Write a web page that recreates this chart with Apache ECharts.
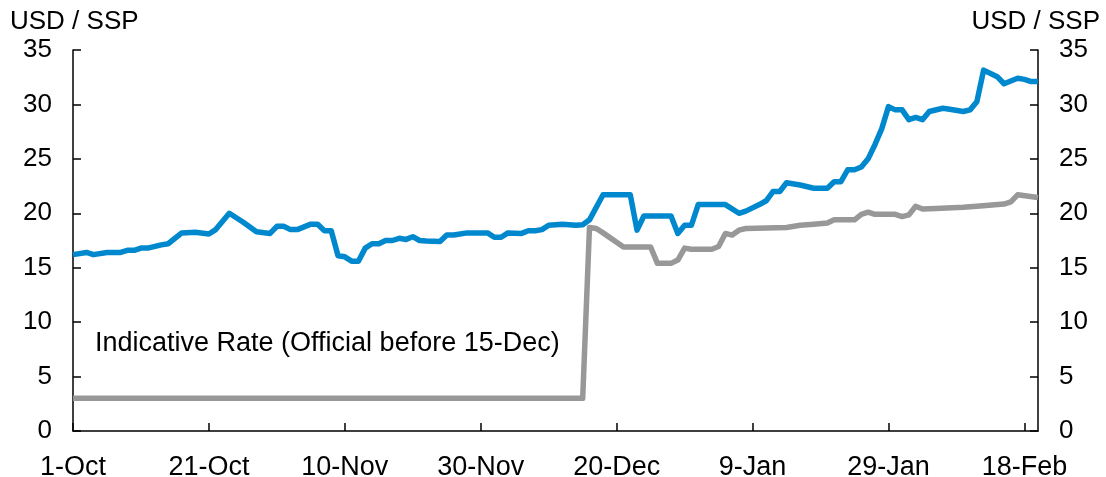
<!DOCTYPE html>
<html>
<head>
<meta charset="utf-8">
<script src="https://cdn.jsdelivr.net/npm/echarts@6/dist/echarts.min.js"></script>
<style>
html,body{margin:0;padding:0;background:#fff;}
#chart{width:1106px;height:477px;}
</style>
</head>
<body>
<div id="chart"></div>
<script>
// Day index 0 = 1-Oct
var tickDays = [0, 20, 40, 60, 80, 100, 120, 140];
var tickLabels = ['1-Oct', '21-Oct', '10-Nov', '30-Nov', '20-Dec', '9-Jan', '29-Jan', '18-Feb'];
var yTicks = [0, 5, 10, 15, 20, 25, 30, 35];

var parallelDays = [0,2,3,5,7,8,9,10,11,13,14,16,18,20,21,23,25,27,29,30,31,32,33,35,36,37,38,39,40,41,42,43,44,45,46,47,48,49,50,51,52,54,55,56,58,61,62,63,64,66,67,68,69,70,72,74,75,76,78,82,83,84,88,89,90,91,92,96,98,99,101,102,103,104,105,107,109,111,112,113,114,115,116,117,118,119,120,121,122,123,124,125,126,128,129,131,132,133,134,136,137,139,140,141,142];
var parallelRate = [16.2,16.4,16.2,16.4,16.4,16.6,16.6,16.8,16.8,17.1,17.2,18.2,18.25,18.1,18.5,20.0,19.2,18.3,18.15,18.8,18.8,18.5,18.5,19.0,19.0,18.4,18.4,16.1,16.0,15.6,15.6,16.8,17.2,17.2,17.5,17.5,17.7,17.6,17.85,17.5,17.45,17.4,18.0,18.0,18.2,18.2,17.8,17.8,18.2,18.15,18.4,18.4,18.5,18.9,19.0,18.9,18.95,19.4,21.7,21.7,18.45,19.75,19.75,18.15,18.9,18.9,20.8,20.8,20.0,20.2,20.8,21.15,22.0,22.0,22.8,22.6,22.3,22.3,22.9,22.9,24.0,24.0,24.25,25.0,26.3,27.75,29.8,29.5,29.5,28.6,28.8,28.6,29.35,29.65,29.55,29.35,29.5,30.25,33.15,32.55,31.9,32.4,32.3,32.1,32.1];

var indicativeDays = [0,75,76,77,78,81,85,86,88,89,90,91,94,95,96,97,98,99,105,107,109,111,112,115,116,117,118,121,122,123,124,125,127,131,133,137,138,139,142];
var indicativeRate = [3.0,3.0,18.7,18.6,18.2,16.9,16.9,15.4,15.4,15.7,16.8,16.7,16.7,16.95,18.15,18.0,18.45,18.6,18.7,18.9,19.0,19.1,19.4,19.4,19.9,20.1,19.9,19.9,19.7,19.85,20.65,20.4,20.45,20.55,20.65,20.85,21.05,21.7,21.45];

function pairs(xs, ys) { return xs.map(function (x, i) { return [x, ys[i]]; }); }

var FONT = '"Liberation Sans", Arial, sans-serif';
var chart = echarts.init(document.getElementById('chart'), null, {renderer: 'canvas'});

var yAxisCommon = {
  type: 'value', min: 0, max: 35, interval: 5,
  splitLine: {show: false},
  axisLine: {show: true, lineStyle: {color: '#000', width: 1.5}},
  axisTick: {show: true, inside: true, length: 8, lineStyle: {color: '#000', width: 1.5}},
  axisLabel: {color: '#000', fontSize: 26, fontFamily: FONT, margin: 21}
};

chart.setOption({
  animation: false,
  backgroundColor: '#fff',
  grid: {left: 73, right: 68, top: 50, bottom: 46, containLabel: false, outerBoundsMode: 'none'},
  xAxis: {
    type: 'value', min: 0, max: 142, interval: 20,
    splitLine: {show: false},
    axisLine: {show: true, onZero: false, lineStyle: {color: '#000', width: 1.5}},
    axisTick: {show: true, inside: true, length: 8, lineStyle: {color: '#000', width: 1.5}},
    axisLabel: {
      color: '#000', fontSize: 27, fontFamily: FONT, margin: 23,
      showMaxLabel: false,
      formatter: function (v) { var i = tickDays.indexOf(v); return i >= 0 ? tickLabels[i] : ''; }
    }
  },
  yAxis: [
    Object.assign({}, yAxisCommon, {position: 'left'}),
    Object.assign({}, yAxisCommon, {position: 'right'})
  ],
  graphic: [
    {type: 'text', left: 10, top: 9, style: {text: 'USD / SSP', fill: '#000', font: '26px ' + FONT}},
    {type: 'text', right: 6, top: 9, style: {text: 'USD / SSP', fill: '#000', font: '26px ' + FONT}},
    {type: 'text', left: 95, top: 330, style: {text: 'Indicative Rate (Official before 15-Dec)', fill: '#000', font: '27px ' + FONT}}
  ],
  series: [
    {
      name: 'Indicative Rate', type: 'line', yAxisIndex: 0,
      data: pairs(indicativeDays, indicativeRate),
      showSymbol: false, symbol: 'none',
      lineStyle: {color: '#989898', width: 5.5, join: 'round'},
      z: 2
    },
    {
      name: 'Parallel Rate', type: 'line', yAxisIndex: 0,
      data: pairs(parallelDays, parallelRate),
      showSymbol: false, symbol: 'none',
      lineStyle: {color: '#0088CE', width: 5.5, join: 'round'},
      z: 3
    }
  ]
});
</script>
</body>
</html>
